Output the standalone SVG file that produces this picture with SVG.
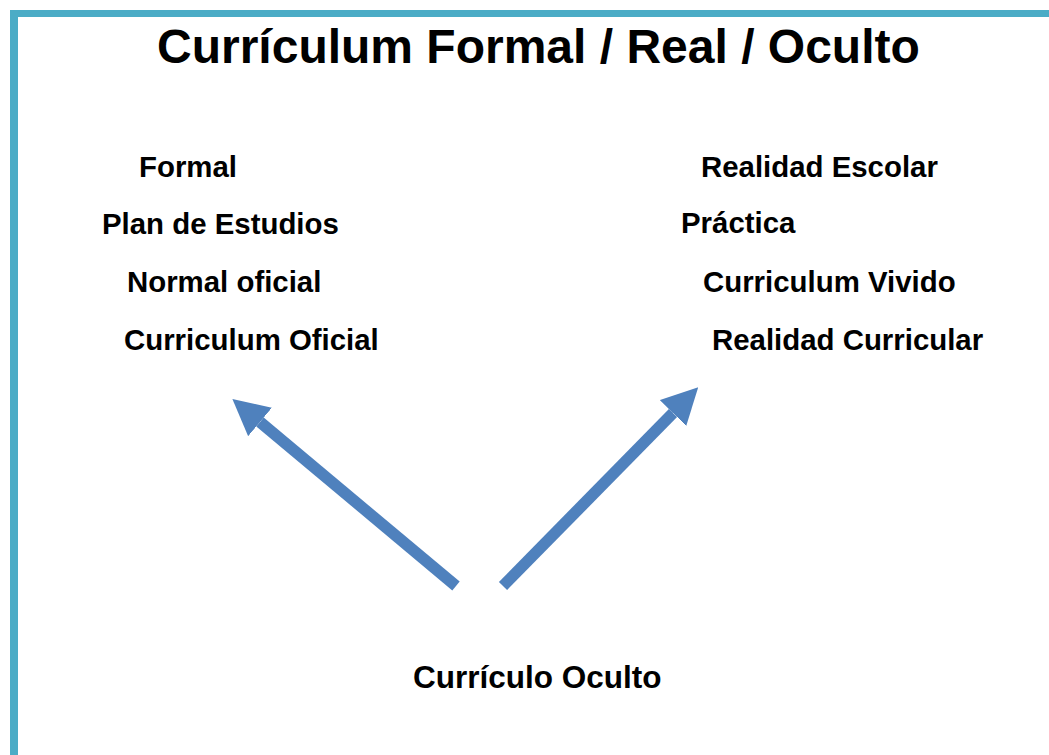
<svg xmlns="http://www.w3.org/2000/svg" width="1049" height="755" viewBox="0 0 1049 755">
<style>
.t{font-family:"Liberation Sans",Arial,sans-serif;font-weight:bold;fill:#000}
.lbl{font-size:29.4px}
.big{font-size:31.5px}
.title{font-size:48px}
.arr{stroke:#4F81BD;stroke-width:11.5;fill:none;marker-end:url(#ah)}
</style>
<defs>
<marker id="ah" markerUnits="userSpaceOnUse" viewBox="0 0 36 37" refX="0" refY="18.5" markerWidth="36" markerHeight="37" orient="auto">
<path d="M0,0 L36,18.5 L0,37 z" fill="#4F81BD"/>
</marker>
</defs>
<rect width="1049" height="755" fill="#fff"/>
<g id="border">
<rect x="10" y="10" width="1039" height="7" fill="#4BACC6"/>
<rect x="10" y="10" width="8" height="745" fill="#4BACC6"/>
</g>
<g id="title"><text class="t title" x="157" y="63">Currículum Formal / Real / Oculto</text></g>
<g id="formal">
<text class="t lbl" x="139" y="177">Formal</text>
<text class="t lbl" x="102" y="234">Plan de Estudios</text>
<text class="t lbl" x="127" y="292">Normal oficial</text>
<text class="t lbl" x="124" y="350">Curriculum Oficial</text>
</g>
<g id="real">
<text class="t lbl" x="701" y="177">Realidad Escolar</text>
<text class="t lbl" x="681" y="233">Práctica</text>
<text class="t lbl" x="703" y="292">Curriculum Vivido</text>
<text class="t lbl" x="712" y="350">Realidad Curricular</text>
</g>
<g id="oculto"><text class="t big" x="413" y="688">Currículo Oculto</text></g>
<g id="connectors">
<line class="arr" x1="456" y1="586" x2="260" y2="422"/>
<line class="arr" x1="503" y1="586" x2="673" y2="413"/>
</g>
</svg>
